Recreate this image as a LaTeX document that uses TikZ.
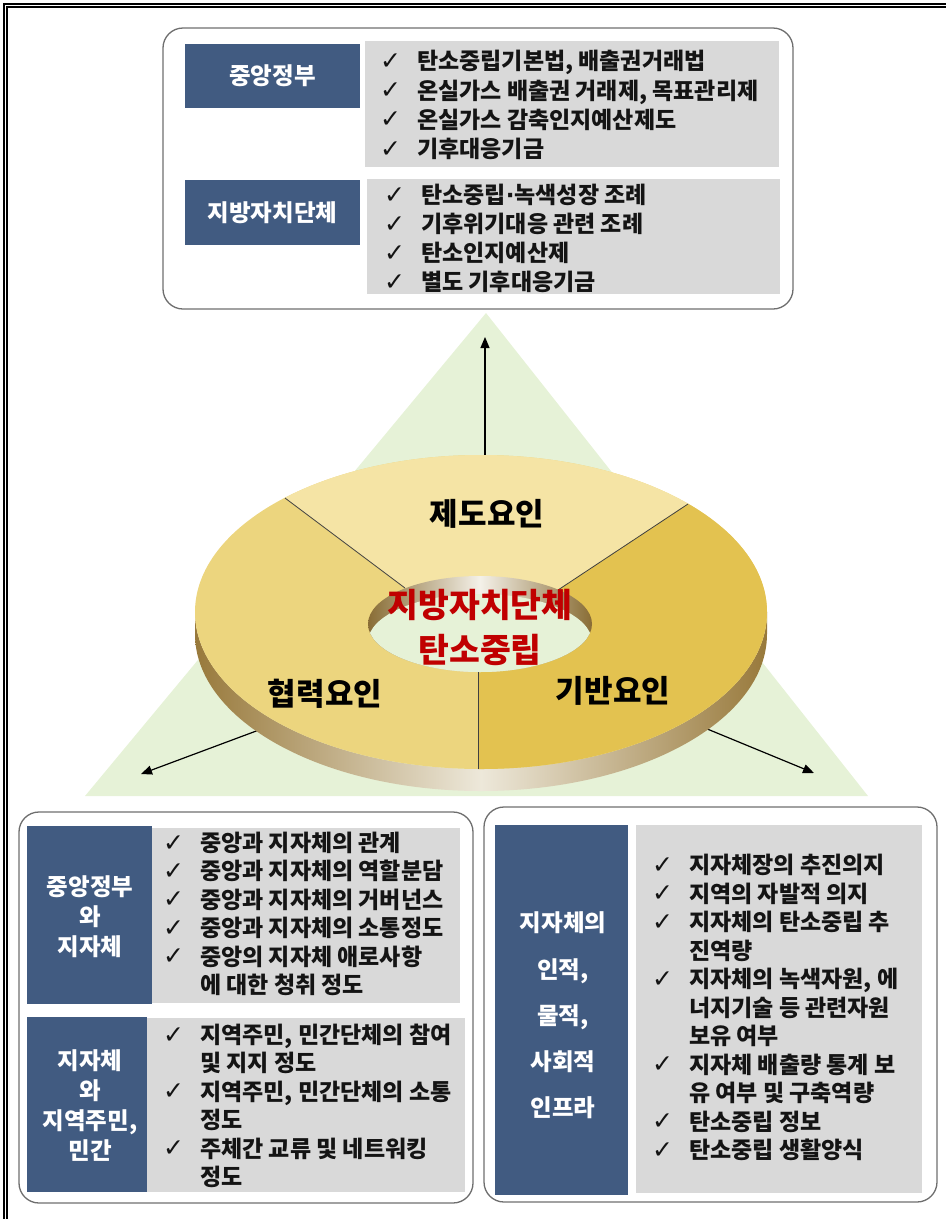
\documentclass[tikz,border=0pt]{standalone}
\usepackage{fontspec}
\setmainfont{Noto Sans CJK KR}
\newfontfamily\symfont{DejaVu Sans}
\usetikzlibrary{arrows.meta}

\definecolor{boxblue}{HTML}{415B81}
\definecolor{boxgray}{HTML}{D9D9D9}
\definecolor{trigreen}{HTML}{E6F2D7}
\definecolor{secTop}{HTML}{F5E4A5}
\definecolor{secLeft}{HTML}{ECD57E}
\definecolor{secRight}{HTML}{E3C250}
\definecolor{rimDark}{HTML}{98793B}
\definecolor{rimLight}{HTML}{EDE8DA}
\definecolor{titleRed}{HTML}{C00000}
\definecolor{frameGray}{HTML}{6E6E6E}
\definecolor{itemBlack}{HTML}{141414}

% check mark column and empty column for continued lines
\newcommand\chk{\makebox[37pt][l]{\strut\smash{\raisebox{0.5pt}{\symfont\fontsize{25}{25}\selectfont ✓}}}}
\newcommand\cnt{\makebox[37pt][l]{\strut}}
% narrow middle dot
\newcommand\mdot{{\symfont\bfseries ·}}

\begin{document}
\begin{tikzpicture}[x=1pt,y=-1pt,
  roundframe/.style={draw=frameGray, line width=1.3pt, rounded corners=20pt, inner sep=0pt, outer sep=0pt},
  bluebox/.style={fill=boxblue, inner sep=0pt, outer sep=0pt},
  graybox/.style={fill=boxgray, inner sep=0pt, outer sep=0pt},
  bluetext/.style={text=white, align=center, inner sep=0pt, font=\bfseries\fontsize{23.5}{30}\selectfont},
  itemlist/.style={anchor=north west, inner sep=0pt, align=left, text=itemBlack},
  factor/.style={inner sep=0pt, font=\bfseries\fontsize{31}{36}\selectfont},
  arrowline/.style={line width=1.2pt, -{Triangle[length=11pt,width=9pt]}}
]
\useasboundingbox (0,0) rectangle (946,1219);

% page frame (double rule)
\draw[line width=1.1pt] (4,1219) -- (4,4) -- (946,4);
\draw[line width=1.1pt] (7,1219) -- (7,7) -- (946,7);

% background triangle
\fill[trigreen] (486,313) -- (868,796) -- (85,796) -- cycle;

% arrow anchors
\coordinate (upStart) at (485,470);
\coordinate (upEnd) at (485,337);
\coordinate (leftStart) at (275,724);
\coordinate (leftEnd) at (141,774);
\coordinate (rightStart) at (700,726);
\coordinate (rightEnd) at (814,773);
\draw[arrowline] (upStart) -- (upEnd);
\draw[arrowline] (leftStart) -- (leftEnd);
\draw[arrowline] (rightStart) -- (rightEnd);

% ring: side wall
\shade[left color=rimDark, right color=rimDark, middle color=rimLight]
  (195,612) arc[start angle=180, end angle=360, x radius=286pt, y radius=157pt]
  -- ++(0,22) arc[start angle=0, end angle=-180, x radius=286pt, y radius=157pt] -- cycle;

% ring: top surface with three sectors
\fill[secLeft] (481,612) ellipse[x radius=286pt, y radius=157pt];
\begin{scope}
  \clip (481,612) ellipse[x radius=286pt, y radius=157pt];
  \fill[secTop] (485,648) -- (245,468) -- (245,380) -- (740,380) -- (727,478) -- (480,642) -- cycle;
  \fill[secRight] (480,642) -- (727,478) -- (800,440) -- (800,830) -- (478,830) -- (478,642) -- cycle;
\end{scope}

% ring: hole with visible inner wall and background floor
\shade[left color=rimDark!90!black, right color=rimDark!90!black, middle color=rimLight!60!white]
  (480,624) ellipse[x radius=112pt, y radius=48pt];
\begin{scope}
  \clip (480,624) ellipse[x radius=112pt, y radius=48pt];
  \fill[trigreen] (480,642) ellipse[x radius=112pt, y radius=48pt];
\end{scope}

% sector dividers
\coordinate (ulIn) at (405,588);
\coordinate (ulOut) at (285,498);
\coordinate (urIn) at (558,590);
\coordinate (urOut) at (688,504);
\coordinate (btIn) at (478,672);
\coordinate (btOut) at (478,769);
\draw[black!75, line width=0.8pt] (ulIn) -- (ulOut);
\draw[black!75, line width=0.8pt] (urIn) -- (urOut);
\draw[black!75, line width=0.8pt] (btIn) -- (btOut);

% ring labels
\node[factor] (instFactor) at (487,514) {제도요인};
\node[factor] (coopFactor) at (325,694) {협력요인};
\node[factor] (baseFactor) at (613,691) {기반요인};
\node[inner sep=0pt, text=titleRed, align=center, font=\bfseries\fontsize{33.5}{45}\selectfont] (core) at (480,627) {지방자치단체\\탄소중립};

% ---------- top panel ----------
\node[roundframe, minimum width=630pt, minimum height=281pt] (topFrame) at (478,168.5) {};
\node[bluebox, minimum width=175pt, minimum height=64pt] (cgBox) at (272.5,76) {};
\node[bluetext] (cgLabel) at (272.5,76) {중앙정부};
\node[graybox, minimum width=414pt, minimum height=126pt] (cgGray) at (572,104) {};
\node[itemlist, font=\bfseries\fontsize{23}{29.3}\selectfont] (cgList) at (380,49)
  {\chk 탄소중립기본법, 배출권거래법\\
   \chk 온실가스 배출권 거래제, 목표관리제\\
   \chk 온실가스 감축인지예산제도\\
   \chk 기후대응기금};

\node[bluebox, minimum width=175pt, minimum height=65pt] (lgBox) at (272.5,212.5) {};
\node[bluetext] (lgLabel) at (272.5,212.5) {지방자치단체};
\node[graybox, minimum width=413pt, minimum height=115pt] (lgGray) at (573.5,236.5) {};
\node[itemlist, font=\bfseries\fontsize{23}{29}\selectfont] (lgList) at (384,183)
  {\chk 탄소중립\mdot 녹색성장 조례\\
   \chk 기후위기대응 관련 조례\\
   \chk 탄소인지예산제\\
   \chk 별도 기후대응기금};

% ---------- bottom-left panel ----------
\node[roundframe, minimum width=454pt, minimum height=391pt] (leftFrame) at (246,1007.5) {};
\node[bluebox, minimum width=125pt, minimum height=178pt] (cgLocBox) at (89.5,915) {};
\node[bluetext] (cgLocLabel) at (90,917) {중앙정부\\와\\지자체};
\node[graybox, minimum width=308pt, minimum height=175pt] (cgLocGray) at (306,915.5) {};
\node[itemlist, font=\bfseries\fontsize{23}{28.4}\selectfont] (cgLocList) at (163,831.5)
  {\chk 중앙과 지자체의 관계\\
   \chk 중앙과 지자체의 역할분담\\
   \chk 중앙과 지자체의 거버넌스\\
   \chk 중앙과 지자체의 소통정도\\
   \chk 중앙의 지자체 애로사항\\
   \cnt 에 대한 청취 정도};

\node[bluebox, minimum width=120pt, minimum height=175pt] (locResBox) at (87,1104.5) {};
\node[bluetext] (locResLabel) at (90,1106) {지자체\\와\\지역주민,\\민간};
\node[graybox, minimum width=318pt, minimum height=174pt] (locResGray) at (306,1105) {};
\node[itemlist, font=\bfseries\fontsize{23}{28.4}\selectfont] (locResList) at (163,1023.5)
  {\chk 지역주민, 민간단체의 참여\\
   \cnt 및 지지 정도\\
   \chk 지역주민, 민간단체의 소통\\
   \cnt 정도\\
   \chk 주체간 교류 및 네트워킹\\
   \cnt 정도};

% ---------- bottom-right panel ----------
\node[roundframe, minimum width=453pt, minimum height=395pt] (rightFrame) at (710.5,1004.5) {};
\node[bluebox, minimum width=133pt, minimum height=370pt] (infraBox) at (561.5,1010) {};
\node[bluetext, font=\bfseries\fontsize{23.5}{46.25}\selectfont] (infraLabel) at (563,1015.5) {지자체의\\인적,\\물적,\\사회적\\인프라};
\node[graybox, minimum width=286pt, minimum height=368pt] (infraGray) at (779,1009) {};
\node[itemlist, font=\bfseries\fontsize{23}{28.5}\selectfont] (infraList) at (652,853.5)
  {\chk 지자체장의 추진의지\\
   \chk 지역의 자발적 의지\\
   \chk 지자체의 탄소중립 추\\
   \cnt 진역량\\
   \chk 지자체의 녹색자원, 에\\
   \cnt 너지기술 등 관련자원\\
   \cnt 보유 여부\\
   \chk 지자체 배출량 통계 보\\
   \cnt 유 여부 및 구축역량\\
   \chk 탄소중립 정보\\
   \chk 탄소중립 생활양식};
\end{tikzpicture}
\end{document}
